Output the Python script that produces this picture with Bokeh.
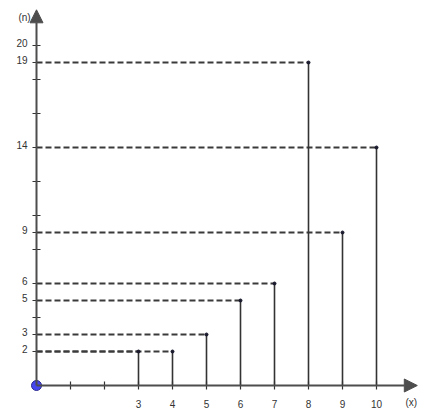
from bokeh.plotting import figure
from bokeh.models import Range1d, Arrow, NormalHead
from bokeh.core.properties import value
from bokeh.embed import file_html
from bokeh.resources import INLINE

# data
x_vals = [3, 4, 5, 6, 7, 8, 9, 10]
n_vals = [2, 2, 3, 5, 6, 19, 9, 14]
x_ticks = [1, 2, 3, 4, 5, 6, 7, 8, 9, 10]
x_tick_labels = [3, 4, 5, 6, 7, 8, 9, 10]
y_ticks = [2, 3, 4, 5, 6, 8, 9, 10, 12, 14, 16, 18, 19, 20]
y_tick_labels = [2, 3, 5, 6, 9, 14, 19, 20]
x_axis_end = 11.2
y_axis_end = 22.1

PX_X = 34.0
PX_Y = 17.0

p = figure(width=443, height=417,
           x_range=Range1d(-36 / PX_X, 407 / PX_X),
           y_range=Range1d(-32 / PX_Y, 385 / PX_Y),
           output_backend="svg", toolbar_location=None,
           min_border=0, min_border_left=0, min_border_right=0,
           min_border_top=0, min_border_bottom=0)
p.axis.visible = False
p.grid.visible = False
p.outline_line_color = None
p.background_fill_color = "white"

axis_col = "#4d4d4d"
line_col = "#333333"
font = value("Liberation Sans")

# dashed horizontal guides
p.segment(x0=[0] * len(x_vals), y0=n_vals, x1=x_vals, y1=n_vals,
          line_color="#3a3a3a", line_width=1.8, line_dash="6 3")
# vertical stems
p.segment(x0=x_vals, y0=[0] * len(x_vals), x1=x_vals, y1=n_vals,
          line_color=line_col, line_width=1.6)
p.scatter(x_vals, n_vals, size=3, color="#1a1a2e")

# axes with arrows
p.add_layout(Arrow(end=NormalHead(size=13, fill_color=axis_col, line_color=axis_col),
                   x_start=0, y_start=0, x_end=x_axis_end, y_end=0,
                   line_color=axis_col, line_width=2))
p.add_layout(Arrow(end=NormalHead(size=13, fill_color=axis_col, line_color=axis_col),
                   x_start=0, y_start=0, x_end=0, y_end=y_axis_end,
                   line_color=axis_col, line_width=2))

# tick marks
p.segment(x0=x_ticks, y0=[-4 / PX_Y] * len(x_ticks), x1=x_ticks, y1=[4 / PX_Y] * len(x_ticks),
          line_color=line_col, line_width=1.2)
p.segment(x0=[-4 / PX_X] * len(y_ticks), y0=y_ticks, x1=[4 / PX_X] * len(y_ticks), y1=y_ticks,
          line_color=line_col, line_width=1.2)

# tick labels
p.text(x=x_tick_labels, y=[0] * len(x_tick_labels), text=[str(v) for v in x_tick_labels],
       text_font=font, text_font_size="10px", text_color="#333333",
       text_align="center", text_baseline="middle", y_offset=18)
p.text(x=[0] * len(y_tick_labels), y=y_tick_labels, text=[str(v) for v in y_tick_labels],
       text_font=font, text_font_size="10px", text_color="#333333",
       text_align="right", text_baseline="middle", x_offset=-9, y_offset=-3)

# axis names
p.text(x=[x_axis_end], y=[0], text=["(x)"], text_font=font, text_font_size="10px",
       text_color="#333333", text_align="center", text_baseline="middle",
       x_offset=-6, y_offset=17)
p.text(x=[0], y=[y_axis_end], text=["(n)"], text_font=font, text_font_size="10px",
       text_color="#333333", text_align="center", text_baseline="middle",
       x_offset=-12, y_offset=8)

# origin point
p.scatter([0], [0], size=10, fill_color="#4646f0", line_color="#2a2a90", line_width=1)

open("out.html", "w").write(file_html(p, INLINE))
